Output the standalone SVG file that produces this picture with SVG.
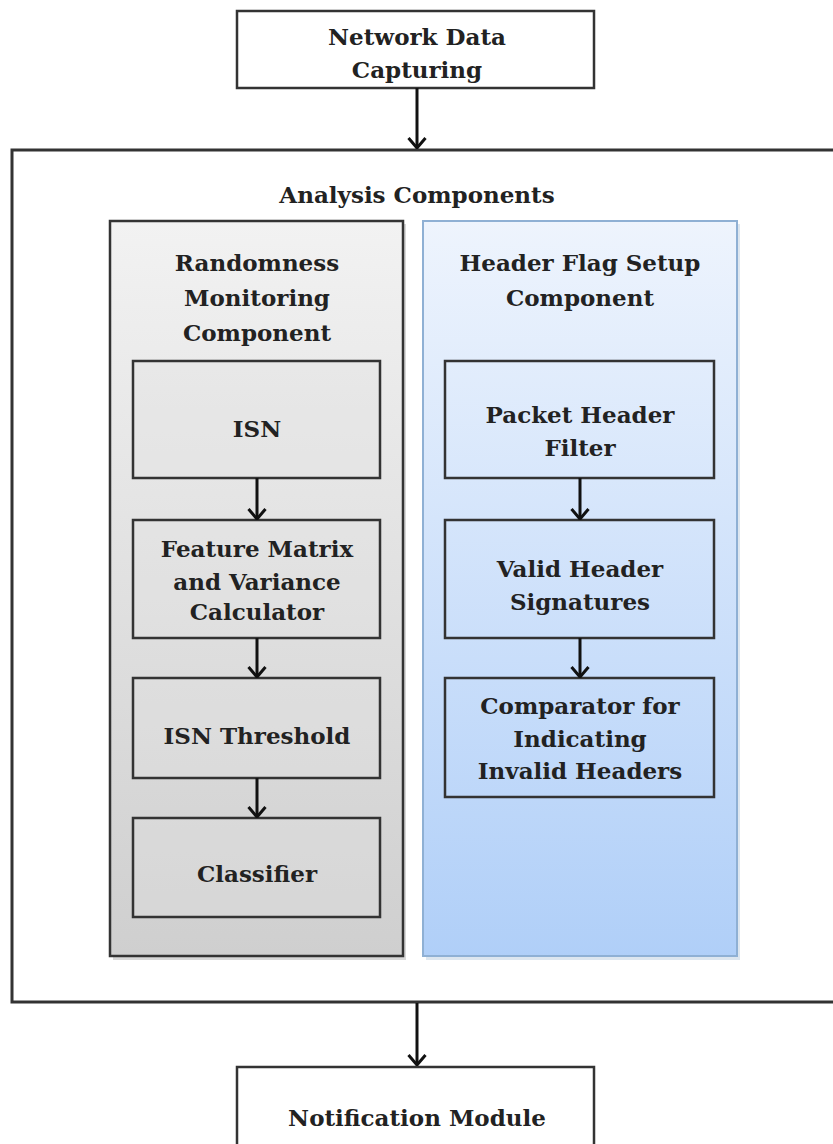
<svg xmlns="http://www.w3.org/2000/svg" width="833" height="1144" viewBox="0 0 833 1144">
<defs>
<style>
text{font-family:"DejaVu Serif","Liberation Serif",serif;font-weight:bold;font-size:23px;fill:#222;text-anchor:middle}
.box{fill:#fff;stroke:#333;stroke-width:2.5}
.gbox{fill:#e2e2e2;fill-opacity:0.35;stroke:#333;stroke-width:2.5}
.bbox{fill:none;stroke:#333;stroke-width:2.5}
.conn{stroke:#111;stroke-width:3;fill:none;marker-end:url(#arr)}
</style>
<linearGradient id="gPanel" x1="0" y1="0" x2="0" y2="1">
<stop offset="0" stop-color="#f2f2f2"/><stop offset="1" stop-color="#cfcfcf"/>
</linearGradient>
<linearGradient id="bPanel" x1="0" y1="0" x2="0" y2="1">
<stop offset="0" stop-color="#eef4fd"/><stop offset="1" stop-color="#b0cff8"/>
</linearGradient>
<marker id="arr" viewBox="0 0 12 20" refX="11" refY="10" markerWidth="12" markerHeight="20" markerUnits="userSpaceOnUse" orient="auto">
<path d="M1,1.5 L11,10 L1,18.5" fill="none" stroke="#111" stroke-width="3"/>
</marker>
</defs>
<rect width="833" height="1144" fill="#fff"/>
<g id="capture">
<rect class="box" x="237" y="11" width="357" height="77"/>
<text x="417" y="45">Network Data</text>
<text x="417" y="78">Capturing</text>
</g>
<g id="analysis">
<rect x="12" y="150" width="840" height="852" fill="#fff" stroke="#333" stroke-width="3"/>
<text x="417" y="203" font-size="24">Analysis Components</text>
</g>
<g id="randomness">
<rect x="113" y="224" width="293" height="736" fill="#d8d8d8"/>
<rect x="110" y="221" width="293" height="735" fill="url(#gPanel)" stroke="#333" stroke-width="2.5"/>
<text x="257" y="271">Randomness</text>
<text x="257" y="306">Monitoring</text>
<text x="257" y="341">Component</text>
</g>
<g id="headerflag">
<rect x="426" y="224" width="314" height="736" fill="#dde6ef"/>
<rect x="423" y="221" width="314" height="735" fill="url(#bPanel)" stroke="#8fb0d4" stroke-width="2"/>
<text x="580" y="271">Header Flag Setup</text>
<text x="580" y="306">Component</text>
</g>
<g id="isn">
<rect class="gbox" x="133" y="361" width="247" height="117"/>
<text x="257" y="437">ISN</text>
</g>
<g id="feature">
<rect class="gbox" x="133" y="520" width="247" height="118"/>
<text x="257" y="557">Feature Matrix</text>
<text x="257" y="590">and Variance</text>
<text x="257" y="620">Calculator</text>
</g>
<g id="threshold">
<rect class="gbox" x="133" y="678" width="247" height="100"/>
<text x="257" y="744">ISN Threshold</text>
</g>
<g id="classifier">
<rect class="gbox" x="133" y="818" width="247" height="99"/>
<text x="257" y="882">Classifier</text>
</g>
<g id="packet">
<rect class="bbox" x="445" y="361" width="269" height="117"/>
<text x="580" y="423">Packet Header</text>
<text x="580" y="456">Filter</text>
</g>
<g id="valid">
<rect class="bbox" x="445" y="520" width="269" height="118"/>
<text x="580" y="577">Valid Header</text>
<text x="580" y="610">Signatures</text>
</g>
<g id="comparator">
<rect class="bbox" x="445" y="678" width="269" height="119"/>
<text x="580" y="714">Comparator for</text>
<text x="580" y="747">Indicating</text>
<text x="580" y="779">Invalid Headers</text>
</g>
<g id="notification">
<rect class="box" x="237" y="1067" width="357" height="90"/>
<text x="417" y="1126">Notification Module</text>
</g>
<g id="connectors">
<line class="conn" x1="417" y1="88" x2="417" y2="148"/>
<line class="conn" x1="257" y1="478" x2="257" y2="519"/>
<line class="conn" x1="257" y1="638" x2="257" y2="677"/>
<line class="conn" x1="257" y1="778" x2="257" y2="817"/>
<line class="conn" x1="580" y1="478" x2="580" y2="519"/>
<line class="conn" x1="580" y1="638" x2="580" y2="677"/>
<line class="conn" x1="417" y1="1003" x2="417" y2="1065"/>
</g>
</svg>
